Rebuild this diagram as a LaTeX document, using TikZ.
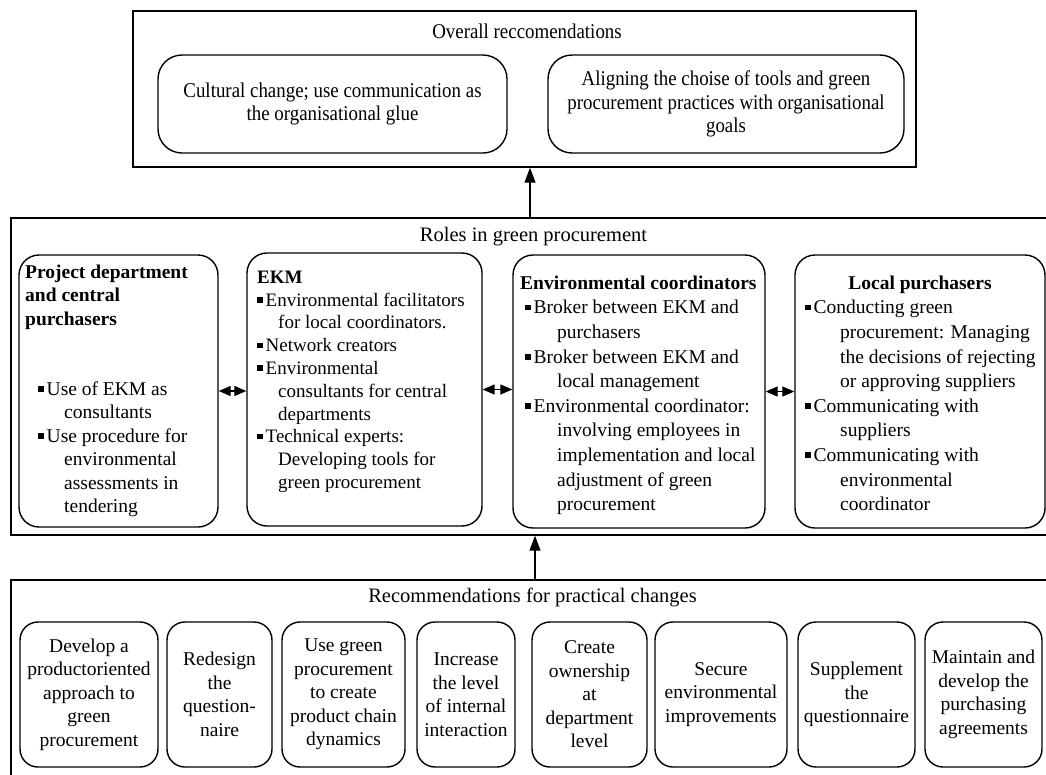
\documentclass[tikz,border=0pt]{standalone}
\usepackage{fontspec}
\setmainfont{Liberation Serif}
\newfontfamily\narrowserif[FakeStretch=0.9]{Liberation Serif}
\usetikzlibrary{arrows.meta,calc}

% small square bullet and a fixed-height strut for the first line of a list
\newcommand\sqbullet{\rule[3.5pt]{5.5pt}{5.5pt}\hspace{3pt}}
\newcommand\firstline{\rule{0pt}{15pt}}

\begin{document}
\begin{tikzpicture}[x=1pt,y=-1pt,
  frame/.style={draw, line width=1.4pt, inner sep=0pt},
  rbox/.style={draw, line width=1.4pt, rounded corners=20pt, inner sep=0pt},
  topbox/.style={rbox, rounded corners=24pt, align=center,
    font=\narrowserif\fontsize{21}{23.5}\selectfont},
  smallbox/.style={rbox, rounded corners=18pt, align=center,
    font=\fontsize{19.5}{23.5}\selectfont},
  heading/.style={inner sep=0pt, anchor=base, font=\fontsize{20.5}{24}\selectfont},
  listtext/.style={inner sep=0pt, anchor=north west, align=left},
  link/.style={line width=1.3pt, -{Triangle[length=15pt,width=11pt]}},
  twoway/.style={line width=1.3pt,
    {Triangle[length=12pt,width=10pt]}-{Triangle[length=12pt,width=10pt]}}
]
\clip (0,0) rectangle (1046,774);

% ---------- overall recommendations ----------
\node[frame, minimum width=783pt, minimum height=156pt] (overall) at (524.5,89) {};
\node[heading, font=\narrowserif\fontsize{21}{24}\selectfont] (overalltitle) at (527,38) {Overall reccomendations};
\node[topbox, minimum width=349pt, minimum height=98pt] (culture) at (332.5,104)
  {Cultural change; use communication as\\the organisational glue};
\node[topbox, minimum width=356pt, minimum height=98pt] (align) at (726,104)
  {Aligning the choise of tools and green\\procurement practices with organisational\\goals};

% ---------- roles in green procurement ----------
\node[frame, minimum width=1049pt, minimum height=317pt] (roles) at (535.5,376.5) {};
\node[heading] (rolestitle) at (533.5,241) {Roles in green procurement};

\node[rbox, minimum width=199pt, minimum height=272pt] (b1) at (118.5,391) {};
\node[rbox, minimum width=235pt, minimum height=273pt] (b2) at (364.5,389.5) {};
\node[rbox, minimum width=252pt, minimum height=273pt] (b3) at (639,391.5) {};
\node[rbox, minimum width=250pt, minimum height=273pt] (b4) at (920,391.5) {};

\node[listtext, font=\fontsize{19.5}{23.4}\selectfont] (b1text) at (25,263)
  {\firstline\textbf{Project department}\\
   \textbf{and central}\\
   \textbf{purchasers}\\[47pt]
   \hspace*{13pt}\sqbullet Use of EKM as\\
   \hspace*{39pt}consultants\\
   \hspace*{13pt}\sqbullet Use procedure for\\
   \hspace*{39pt}environmental\\
   \hspace*{39pt}assessments in\\
   \hspace*{39pt}tendering};

\node[listtext, font=\fontsize{19}{22.8}\selectfont] (b2text) at (257,268)
  {\firstline\textbf{EKM}\\
   \sqbullet Environmental facilitators\\
   \hspace*{21pt}for local coordinators.\\
   \sqbullet Network creators\\
   \sqbullet Environmental\\
   \hspace*{21pt}consultants for central\\
   \hspace*{21pt}departments\\
   \sqbullet Technical experts:\\
   \hspace*{21pt}Developing tools for\\
   \hspace*{21pt}green procurement};

\node[listtext, font=\fontsize{19.5}{24.6}\selectfont] (b3text) at (520,274)
  {\firstline\textbf{Environmental coordinators}\\
   \hspace*{5pt}\sqbullet Broker between EKM and\\
   \hspace*{37pt}purchasers\\
   \hspace*{5pt}\sqbullet Broker between EKM and\\
   \hspace*{37pt}local management\\
   \hspace*{5pt}\sqbullet Environmental coordinator:\\
   \hspace*{37pt}involving employees in\\
   \hspace*{37pt}implementation and local\\
   \hspace*{37pt}adjustment of green\\
   \hspace*{37pt}procurement};

\node[heading, font=\fontsize{19.5}{24.6}\selectfont] (b4title) at (920,289) {\textbf{Local purchasers}};
\node[listtext, font=\fontsize{19.5}{24.6}\selectfont] (b4text) at (805,298.6)
  {\firstline\sqbullet Conducting green\\
   \hspace*{35pt}procurement: Managing\\
   \hspace*{35pt}the decisions of rejecting\\
   \hspace*{35pt}or approving suppliers\\
   \sqbullet Communicating with\\
   \hspace*{35pt}suppliers\\
   \sqbullet Communicating with\\
   \hspace*{35pt}environmental\\
   \hspace*{35pt}coordinator};

\draw[twoway] (b1.east) -- (b1.east -| b2.west);
\draw[twoway] (b2.east) -- (b2.east -| b3.west);
\draw[twoway] (b3.east) -- (b3.east -| b4.west);

% ---------- recommendations for practical changes ----------
\node[frame, minimum width=1049pt, minimum height=210pt] (practical) at (535.5,685) {};
\node[heading] (practicaltitle) at (532.5,602) {Recommendations for practical changes};

\node[smallbox, minimum width=138pt, minimum height=145pt] (c1) at (89,694.5)
  {Develop a\\productoriented\\approach to\\green\\procurement};
\node[smallbox, minimum width=105pt, minimum height=145pt] (c2) at (219.5,694.5)
  {Redesign\\the\\question-\\naire};
\node[smallbox, minimum width=123pt, minimum height=145pt] (c3) at (343.5,694.5)
  {Use green\\procurement\\to create\\product chain\\dynamics};
\node[smallbox, minimum width=98pt, minimum height=145pt] (c4) at (466,694.5)
  {Increase\\the level\\of internal\\interaction};
\node[smallbox, minimum width=115pt, minimum height=145pt] (c5) at (589.5,694.5)
  {Create\\ownership\\at\\department\\level};
\node[smallbox, minimum width=132pt, minimum height=145pt] (c6) at (721,694.5)
  {Secure\\environmental\\improvements};
\node[smallbox, minimum width=117pt, minimum height=145pt] (c7) at (856.5,694.5)
  {Supplement\\the\\questionnaire};
\node[smallbox, minimum width=117pt, minimum height=145pt] (c8) at (983.5,694.5)
  {Maintain and\\develop the\\purchasing\\agreements};

% ---------- upward links between the levels ----------
\coordinate (up1) at (530,218);
\coordinate (up2) at (535,580);
\draw[link] (up1) -- (up1 |- overall.south);
\draw[link] (up2) -- (up2 |- roles.south);
\end{tikzpicture}
\end{document}
